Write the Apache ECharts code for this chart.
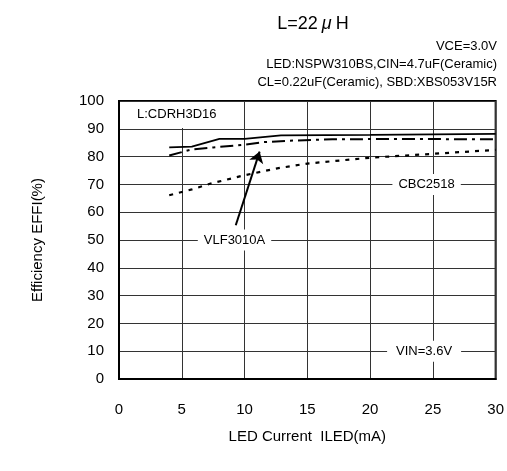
<!DOCTYPE html>
<html>
<head>
<meta charset="utf-8">
<script src="https://cdn.jsdelivr.net/npm/echarts@6/dist/echarts.min.js"></script>
<style>
  html, body { margin: 0; padding: 0; background: #fff; }
  #chart { width: 507px; height: 471px; }
</style>
</head>
<body>
<div id="chart"></div>
<script>
// LED current (mA) vs efficiency (%) for L = 22uH inductors
const cdrhX = [4, 5.8, 8, 10, 12.9, 20, 30];
const cdrhY = [83.3, 83.6, 86.4, 86.4, 87.6, 87.8, 88.2];

const vlfX = [4, 5.8, 7.5, 10, 11.5, 14, 17, 20, 25, 30];
const vlfY = [80.4, 82.6, 83.3, 84.3, 85.2, 85.8, 86.2, 86.3, 86.3, 86.2];

const cbcX = [4, 5.8, 7.3, 10, 12.5, 15, 20, 25, 30];
const cbcY = [66.1, 68.2, 70.3, 73.3, 75.7, 77.5, 79.6, 81.0, 82.4];

const xTicks = [0, 5, 10, 15, 20, 25, 30];
const yTicks = [0, 10, 20, 30, 40, 50, 60, 70, 80, 90, 100];

const conditionLines = [
  'VCE=3.0V',
  'LED:NSPW310BS,CIN=4.7uF(Ceramic)',
  'CL=0.22uF(Ceramic), SBD:XBS053V15R'
];

const FONT = '"Liberation Sans", Arial, sans-serif';

function pairs(xs, ys) {
  return xs.map((x, i) => [x, ys[i]]);
}

function tag(name, coord, padding) {
  return {
    name,
    coord,
    symbol: 'circle',
    symbolSize: 0,
    label: {
      show: true,
      position: 'inside',
      formatter: name,
      color: '#000',
      fontFamily: FONT,
      fontSize: 13,
      backgroundColor: '#fff',
      padding
    }
  };
}

// one right-aligned title per condition line
const conditionTitles = conditionLines.map((line, i) => ({
  text: line,
  right: 10,
  top: 40 + i * 18,
  padding: 0,
  textStyle: {
    fontFamily: FONT,
    fontSize: 13,
    fontWeight: 'normal',
    color: '#000'
  }
}));

const chart = echarts.init(document.getElementById('chart'), null, { renderer: 'canvas' });

chart.setOption({
  animation: false,
  backgroundColor: '#fff',
  title: [
    {
      text: '{a|L=22}{b|μ}{a|H}',
      left: 308,
      top: 10,
      textAlign: 'center',
      textStyle: {
        rich: {
          a: { fontFamily: FONT, fontSize: 18, fontWeight: 'normal', color: '#000' },
          b: { fontFamily: FONT, fontSize: 18, fontWeight: 'normal', color: '#000', fontStyle: 'italic', padding: [0, 4] }
        }
      }
    }
  ].concat(conditionTitles),
  grid: {
    left: 119,
    right: 10,
    top: 101,
    bottom: 92,
    show: true,
    borderColor: '#000',
    borderWidth: 2,
    backgroundColor: 'transparent'
  },
  xAxis: {
    type: 'value',
    min: xTicks[0],
    max: xTicks[xTicks.length - 1],
    interval: 5,
    name: 'LED Current  ILED(mA)',
    nameLocation: 'middle',
    nameGap: 50,
    nameTextStyle: { fontFamily: FONT, fontSize: 15, color: '#000' },
    axisLine: { show: true, lineStyle: { color: '#000', width: 2 } },
    axisTick: { show: false },
    axisLabel: { fontFamily: FONT, fontSize: 15, color: '#000', margin: 23 },
    splitLine: { show: true, lineStyle: { color: '#333', width: 1 } }
  },
  yAxis: {
    type: 'value',
    min: yTicks[0],
    max: yTicks[yTicks.length - 1],
    interval: 10,
    name: 'Efficiency EFFI(%)',
    nameLocation: 'middle',
    nameGap: 74,
    nameTextStyle: { fontFamily: FONT, fontSize: 15, color: '#000' },
    axisLine: { show: true, lineStyle: { color: '#000', width: 2 } },
    axisTick: { show: false },
    axisLabel: { fontFamily: FONT, fontSize: 15, color: '#000', margin: 15 },
    splitLine: { show: true, lineStyle: { color: '#333', width: 1 } }
  },
  series: [
    {
      name: 'CDRH3D16',
      type: 'line',
      data: pairs(cdrhX, cdrhY),
      showSymbol: false,
      lineStyle: { color: '#000', width: 1.8, type: 'solid' },
      markPoint: {
        data: [tag('L:CDRH3D16', [4.6, 95], [6, 7, 7, 7])]
      }
    },
    {
      name: 'VLF3010A',
      type: 'line',
      data: pairs(vlfX, vlfY),
      showSymbol: false,
      lineStyle: { color: '#000', width: 2, type: [13, 5, 3, 5] },
      markPoint: {
        data: [tag('VLF3010A', [9.2, 50], [4, 6])]
      },
      markLine: {
        silent: true,
        symbol: ['none', 'arrow'],
        symbolSize: 11,
        label: { show: false },
        lineStyle: { color: '#000', width: 2, type: 'solid' },
        data: [[{ coord: [9.3, 55.3] }, { coord: [11.2, 81.8] }]]
      }
    },
    {
      name: 'CBC2518',
      type: 'line',
      data: pairs(cbcX, cbcY),
      showSymbol: false,
      lineStyle: { color: '#000', width: 2.2, type: [4, 6] },
      markPoint: {
        data: [
          tag('CBC2518', [24.5, 70], [4, 6]),
          tag('VIN=3.6V', [24.3, 10], [4, 9])
        ]
      }
    }
  ]
});
</script>
</body>
</html>
